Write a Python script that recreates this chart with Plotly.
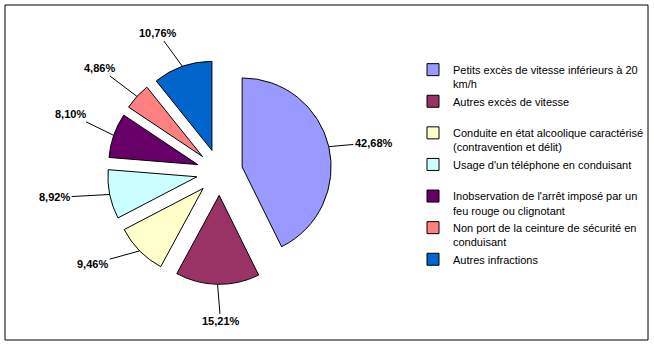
import math
import plotly.graph_objects as go

categories = [
    "Petits excès de vitesse inférieurs à 20<br>km/h",
    "Autres excès de vitesse<br> ",
    "Conduite en état alcoolique caractérisé<br>(contravention et délit)",
    "Usage d'un téléphone en conduisant<br> ",
    "Inobservation de l'arrêt imposé par un<br>feu rouge ou clignotant",
    "Non port de la ceinture de sécurité en<br>conduisant",
    "Autres infractions<br> ",
]
values = [42.68, 15.21, 9.46, 8.92, 8.10, 4.86, 10.76]
colors = ["#9999FF", "#993366", "#FFFFCC", "#CCFFFF", "#660066", "#FF8080", "#0066CC"]

# label offsets (pixels) of each percentage text from its slice's outer arc
label_dx = [45, 3, -47, -55, -43, -37, -24]
label_dy = [-4, 37, 13, 3, -21, -28, -33]

W, H = 654, 346
cx, cy, r, pull = 219.6, 172.2, 89, 0.26
half = r * (1 + pull)

fig = go.Figure(go.Pie(
    labels=categories,
    values=values,
    sort=False,
    direction="clockwise",
    rotation=0,
    pull=[pull] * len(values),
    marker=dict(colors=colors, line=dict(color="black", width=1)),
    textinfo="none",
    domain=dict(x=[(cx - half) / W, (cx + half) / W],
                y=[1 - (cy + half) / H, 1 - (cy - half) / H]),
    hoverinfo="label+percent",
))

# percentage labels with leader lines, anchored on the arc from the data angles
total = sum(values)
annotations = []
cum = 0.0
for v, dx, dy in zip(values, label_dx, label_dy):
    mid = math.radians((cum + v / 2) / total * 360)
    cum += v
    sx, sy = math.sin(mid), -math.cos(mid)
    ox, oy = cx + pull * r * sx, cy + pull * r * sy
    px, py = ox + r * sx, oy + r * sy
    annotations.append(dict(
        x=px / W, y=1 - py / H, xref="paper", yref="paper",
        text=f"{v:.2f}".replace(".", ",") + "%",
        showarrow=True, arrowhead=0, arrowwidth=1, arrowcolor="black",
        standoff=0,
        ax=dx, ay=dy,
        font=dict(family="Liberation Sans", size=11, color="black", weight="bold"),
    ))

fig.update_layout(
    width=W, height=H,
    margin=dict(l=0, r=0, t=0, b=0, autoexpand=False),
    paper_bgcolor="white",
    showlegend=True,
    legend=dict(
        x=413 / W, y=1 - 56 / H, xanchor="left", yanchor="top",
        font=dict(family="Liberation Sans", size=11, color="black"),
        valign="top",
        itemwidth=30,
        bgcolor="rgba(0,0,0,0)",
    ),
    annotations=annotations,
    shapes=[dict(type="rect", xref="paper", yref="paper",
                 x0=5 / W, x1=648 / W, y0=1 - 340 / H, y1=1 - 5 / H,
                 line=dict(color="black", width=1))],
)

fig.write_html("out.html")
